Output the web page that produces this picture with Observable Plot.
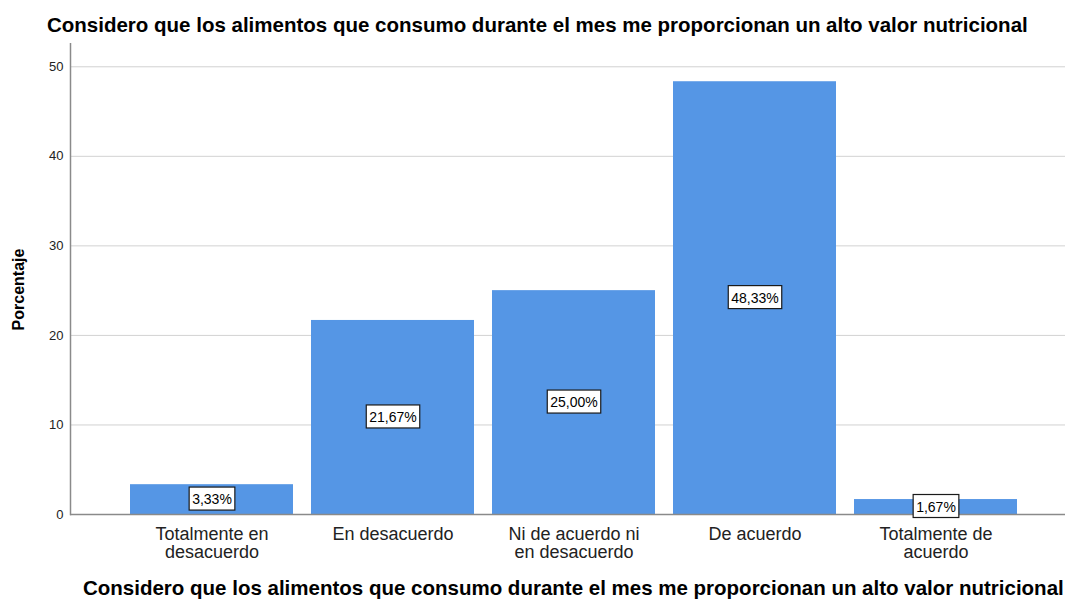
<!DOCTYPE html>
<html><head><meta charset="utf-8">
<script src="https://cdn.jsdelivr.net/npm/d3@7"></script>
<script src="https://cdn.jsdelivr.net/npm/@observablehq/plot@0.6"></script>
<style>
body{margin:0;background:#fff;font-family:"Liberation Sans",Arial,sans-serif;}
#wrap{width:1065px;height:606px;overflow:hidden;position:relative;background:#fff}
.t{font-weight:bold;font-size:20.5px;line-height:1;white-space:nowrap;color:#000}
#top{height:43px;padding-left:47px;padding-top:14.5px;box-sizing:border-box}
#bot{height:33px;padding-left:83px;padding-top:5px;box-sizing:border-box;overflow:hidden}
svg{display:block}
</style></head><body>
<div id="wrap"><div id="top" class="t"></div><div id="chart"></div><div id="bot" class="t"></div></div>
<script>
const categories = ["Totalmente en\ndesacuerdo", "En desacuerdo", "Ni de acuerdo ni\nen desacuerdo", "De acuerdo", "Totalmente de\nacuerdo"];
const percentages = [3.33, 21.67, 25.00, 48.33, 1.67];
const yTicks = [0, 10, 20, 30, 40, 50];
const titleText = "Considero que los alimentos que consumo durante el mes me proporcionan un alto valor nutricional";
const yLabel = "Porcentaje";

document.getElementById("top").textContent = titleText;
document.getElementById("bot").textContent = titleText;

const data = categories.map((c, i) => ({cat: c, pct: percentages[i]}));
const fmt = v => v.toFixed(2).replace(".", ",") + "%";

const chart = Plot.plot({
  width: 1065, height: 530,
  marginTop: 0, marginBottom: 59, marginLeft: 70, marginRight: 0,
  style: {fontFamily: '"Liberation Sans", Arial, sans-serif', background: "#fff"},
  x: {type: "band", domain: categories, paddingInner: 0.1, paddingOuter: 0, insetLeft: 60, insetRight: 48},
  y: {domain: [0, 52.6]},
  marks: [
    Plot.ruleY(yTicks.filter(t => t > 0), {stroke: "#d2d2d2", strokeWidth: 1}),
    Plot.barY(data, {x: "cat", y: "pct", fill: "#5596e5"}),
    Plot.ruleY([0], {stroke: "#8a8a8a", strokeWidth: 1.5}),
    Plot.frame({anchor: "left", stroke: "#8a8a8a", strokeWidth: 1.5}),
    Plot.axisY({ticks: yTicks, tickSize: 0, tickPadding: 7, fontSize: 13, label: null, fill: "#222"}),
    Plot.axisX({tickSize: 0, tickPadding: 12, fontSize: 18, lineHeight: 1.02, label: null, fill: "#222"}),
    Plot.text(data, {x: "cat", y: d => d.pct / 2, text: d => fmt(d.pct), fontSize: 14, fill: "#000"}),
    Plot.text([yLabel], {frameAnchor: "left", textAnchor: "middle", text: d => d, rotate: -90, dx: -52, dy: 10.5, fontSize: 16, fontWeight: "bold", fill: "#000"})
  ]
});
document.getElementById("chart").append(chart);

const valueTexts = new Set(percentages.map(fmt));
chart.querySelectorAll("text").forEach(t => {
  if (!valueTexts.has(t.textContent)) return;
  const b = t.getBBox();
  const r = document.createElementNS("http://www.w3.org/2000/svg", "rect");
  r.setAttribute("x", b.x - 3);
  r.setAttribute("y", b.y - 4);
  r.setAttribute("width", b.width + 6);
  r.setAttribute("height", b.height + 7);
  r.setAttribute("fill", "#fff");
  r.setAttribute("stroke", "#1a1a1a");
  r.setAttribute("stroke-width", 1.2);
  const tr = t.getAttribute("transform");
  if (tr) r.setAttribute("transform", tr);
  t.parentNode.insertBefore(r, t);
});
</script>
</body></html>
